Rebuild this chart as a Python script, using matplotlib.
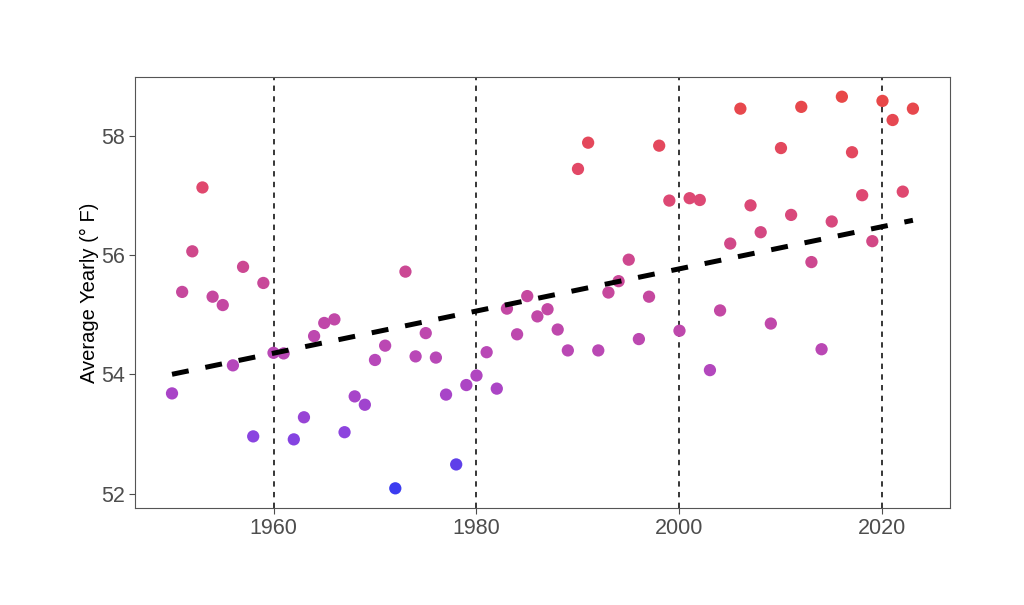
import numpy as np
import matplotlib
matplotlib.use("Agg")
import matplotlib.pyplot as plt
from matplotlib.colors import LinearSegmentedColormap

years = np.arange(1950, 2024)
avg_temp = [
    53.68, 55.38, 56.06, 57.13, 55.30, 55.16, 54.15, 55.80, 52.96, 55.53,  # 1950s
    54.36, 54.35, 52.91, 53.28, 54.64, 54.86, 54.92, 53.03, 53.63, 53.49,  # 1960s
    54.24, 54.48, 52.09, 55.72, 54.30, 54.69, 54.28, 53.66, 52.49, 53.82,  # 1970s
    53.98, 54.37, 53.76, 55.10, 54.67, 55.31, 54.97, 55.09, 54.75, 54.40,  # 1980s
    57.44, 57.88, 54.40, 55.37, 55.56, 55.92, 54.59, 55.30, 57.83, 56.91,  # 1990s
    54.73, 56.95, 56.92, 54.07, 55.07, 56.19, 58.45, 56.83, 56.38, 54.85,  # 2000s
    57.79, 56.67, 58.48, 55.88, 54.42, 56.56, 58.65, 57.72, 57.00, 56.23,  # 2010s
    58.58, 58.26, 57.06, 58.45,                                              # 2020s
]
decade_marks = [1960, 1980, 2000, 2020]

# trend line as drawn in the original (start and end of the fitted line)
trend_years = [1950, 2023]
trend_temp = [54.00, 56.58]

avg_temp = np.array(avg_temp)

# blue -> red gradient going through purple / magenta
cmap = LinearSegmentedColormap.from_list(
    "bluered",
    [(0.00, "#3c3cf0"), (0.13, "#8a44e0"), (0.24, "#a844c8"),
     (0.33, "#b848b8"), (0.52, "#c8489a"), (0.61, "#d0488a"),
     (0.77, "#e0486e"), (1.00, "#e84848")])

fig = plt.figure(figsize=(10.24, 6.05), dpi=100)
ax = fig.add_axes([0.1318, 0.1603, 0.7959, 0.7124])

for x in decade_marks:
    ax.axvline(x, color="black", lw=1.1, dashes=(3.5, 3.5), zorder=1)

ax.scatter(years, avg_temp, c=avg_temp, cmap=cmap, s=78, linewidths=0,
           zorder=3)

ax.plot(trend_years, trend_temp, color="black", lw=3.6,
        dashes=(3.4, 3.4), dash_capstyle="butt", zorder=4)

ax.set_xlim(1946.35, 2026.65)
ax.set_ylim(51.76, 58.98)
ax.set_xticks(decade_marks)
ax.set_yticks([52, 54, 56, 58])

ax.tick_params(colors="#4d4d4d", labelsize=15.5, length=4, width=0.8,
               labelcolor="#4d4d4d", pad=3)
for lbl in ax.get_xticklabels() + ax.get_yticklabels():
    lbl.set_fontfamily("Liberation Sans")
for side in ax.spines.values():
    side.set_color("#555555")
    side.set_linewidth(0.8)

ax.set_ylabel("Average Yearly (° F)", fontsize=14.5, family="Liberation Sans",
              color="black", labelpad=2)

fig.savefig("out.png", dpi=100)
